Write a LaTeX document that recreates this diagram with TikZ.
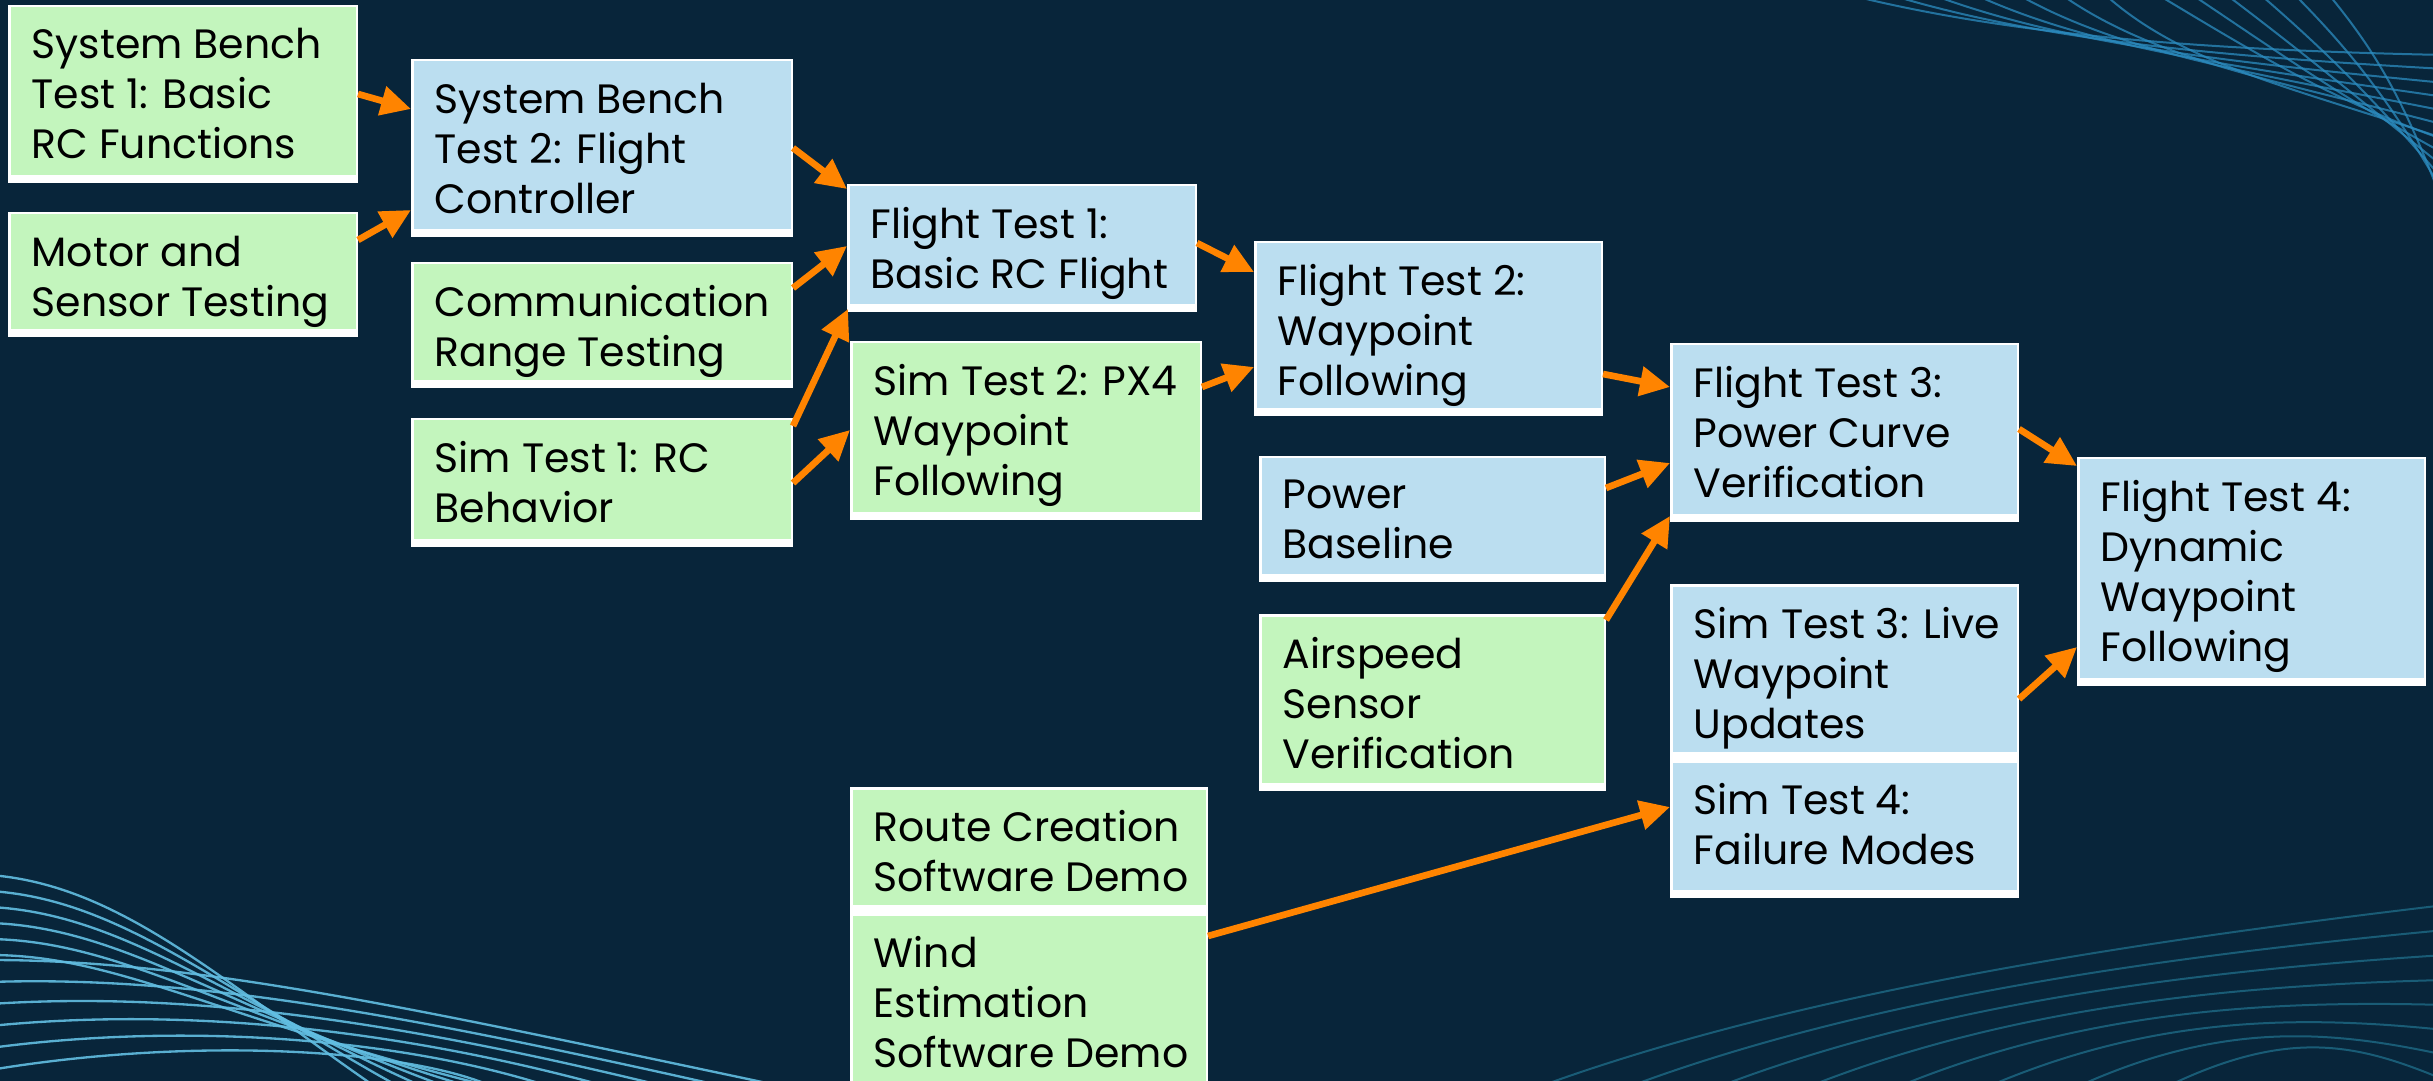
\documentclass[tikz,border=0pt]{standalone}
\usepackage{fontspec}
\setmainfont{Poppins}
\usetikzlibrary{arrows.meta,calc}

\definecolor{bgnavy}{HTML}{08253A}
\definecolor{taskgreen}{HTML}{C3F5BD}
\definecolor{taskblue}{HTML}{BBDEF0}
\definecolor{flowarrow}{HTML}{FF8400}
\definecolor{waveblue}{HTML}{2C8CC0}
\definecolor{wavecyan}{HTML}{62BEE2}
\definecolor{waveteal}{HTML}{1E6A86}

% one task box: name, fill colour, x0, y0, x1, y1 (pixels), text
\newcommand\taskbox[7]{%
  \node[taskframe=#2, minimum width={(#5-#3)*0.3pt}, minimum height={(#6-#4)*0.3pt}] (#1) at (#3,#4) {};
  \node[tasktext] (#1-t) at ([shift={(6.9pt,-6.9pt)}]#1.north west) {#7};
}

\tikzset{
  taskframe/.style={fill=white, draw=none, inner sep=0pt, outer sep=0pt, anchor=north west,
    path picture={\fill[#1] ([shift={(0.75pt,-0.75pt)}]path picture bounding box.north west)
      rectangle ([shift={(-0.75pt,2.4pt)}]path picture bounding box.south east);}},
  tasktext/.style={anchor=north west, inner sep=0pt, align=left, text=black,
    font=\fontsize{12.3}{15}\selectfont},
  flow/.style={draw=flowarrow, line width=2pt, -{Triangle[length=9pt,width=8.6pt]}},
  waveA/.style={draw=waveblue, line width=0.6pt, opacity=0.75},
  waveB/.style={draw=wavecyan, line width=0.7pt, opacity=0.9},
  waveC/.style={draw=waveteal, line width=0.6pt, opacity=0.8},
}

\begin{document}
\begin{tikzpicture}[x=0.3pt, y=-0.3pt]
  % background
  \fill[bgnavy] (0,0) rectangle (2433,1081);
  \useasboundingbox (0,0) rectangle (2433,1081);
  \clip (0,0) rectangle (2433,1081);

  % ribbon of lines, top right
  \foreach \i in {0,...,6}{
    \draw[waveA] (1830+\i*45,-10) .. controls (2000+\i*30,35+\i*5) and (2200+\i*15,50+\i*6) .. (2445,55+\i*14);
  }
  \foreach \i in {0,...,5}{
    \draw[waveA] (2150+\i*35,-10) .. controls (2250+\i*25,50) and (2330+\i*15,100) .. (2445,140+\i*14);
  }

  % ribbon of lines, bottom left
  \foreach \i in {0,...,5}{
    \draw[waveB] (-10,875+\i*16) .. controls (120,885+\i*14) and (220,980+\i*8) .. (380+\i*25,1090);
  }
  \foreach \i in {0,...,5}{
    \draw[waveB] (-10,960+\i*22) .. controls (200,960+\i*15) and (420,1010+\i*8) .. (800-\i*60,1090);
  }

  % ribbon of lines, bottom right
  \foreach \i in {0,...,7}{
    \draw[waveC] (1530+\i*90,1090) .. controls (1800+\i*70,990+\i*5) and (2150+\i*30,940+\i*15) .. (2445,905+\i*25);
  }

  % task boxes
  \taskbox{sb1}{taskgreen}{8}{5}{358}{183}{System Bench\\Test 1: Basic\\RC Functions}
  \taskbox{motor}{taskgreen}{8}{212}{358}{337}{Motor and\\Sensor Testing}
  \taskbox{sb2}{taskblue}{411}{59}{793}{237}{System Bench\\Test 2: Flight\\Controller}
  \taskbox{comm}{taskgreen}{411}{262}{793}{388}{Communication\\Range Testing}
  \taskbox{sim1}{taskgreen}{411}{418}{793}{547}{Sim Test 1: RC\\Behavior}
  \taskbox{ft1}{taskblue}{847}{184}{1197}{312}{Flight Test 1:\\Basic RC Flight}
  \taskbox{sim2}{taskgreen}{850}{341}{1202}{520}{Sim Test 2: PX4\\Waypoint\\Following}
  \taskbox{route}{taskgreen}{850}{787}{1208}{913}{Route Creation\\Software Demo}
  \taskbox{wind}{taskgreen}{850}{913}{1208}{1100}{Wind\\Estimation\\Software Demo}
  \taskbox{ft2}{taskblue}{1254}{241}{1603}{416}{Flight Test 2:\\Waypoint\\Following}
  \taskbox{power}{taskblue}{1259}{456}{1606}{582}{Power\\Baseline}
  \taskbox{air}{taskgreen}{1259}{614}{1606}{791}{Airspeed\\Sensor\\Verification}
  \taskbox{ft3}{taskblue}{1670}{343}{2019}{522}{Flight Test 3:\\Power Curve\\Verification}
  \taskbox{sim3}{taskblue}{1670}{584}{2019}{760}{Sim Test 3: Live\\Waypoint\\Updates}
  \taskbox{sim4}{taskblue}{1670}{760}{2019}{898}{Sim Test 4:\\Failure Modes}
  \taskbox{ft4}{taskblue}{2077}{457}{2426}{686}{Flight Test 4:\\Dynamic\\Waypoint\\Following}

  % dependencies
  \draw[flow] (sb1.east) -- ($(sb2.north west)+(0,50)$);
  \draw[flow] ($(motor.north east)+(0,28)$) -- ($(sb2.north west)+(0,151)$);
  \draw[flow] (sb2.east) -- ($(ft1.north west)+(0,5)$);
  \draw[flow] ($(comm.north east)+(0,26)$) -- ($(ft1.north west)+(0,62)$);
  \draw[flow] ($(sim1.north east)+(0,8)$) -- ($(ft1.south west)+(1,-3)$);
  \draw[flow] ($(sim1.north east)+(0,65)$) -- ($(sim2.north west)+(0,89)$);
  \draw[flow] ($(ft1.north east)+(0,59)$) -- ($(ft2.north west)+(0,31)$);
  \draw[flow] ($(sim2.north east)+(0,46)$) -- ($(ft2.north west)+(0,126)$);
  \draw[flow] ($(ft2.north east)+(0,133)$) -- ($(ft3.north west)+(0,44)$);
  \draw[flow] ($(power.north east)+(0,32)$) -- ($(ft3.north west)+(0,120)$);
  \draw[flow] ($(air.north east)+(0,6)$) -- ($(ft3.south west)+(0,-6)$);
  \draw[flow] ($(ft3.north east)+(0,86)$) -- ($(ft4.north west)+(0,9)$);
  \draw[flow] ($(sim3.north east)+(0,115)$) -- ($(ft4.north west)+(0,190)$);
  \draw[flow] ($(wind.north east)+(0,23)$) -- ($(sim4.north west)+(0,47)$);
\end{tikzpicture}
\end{document}
